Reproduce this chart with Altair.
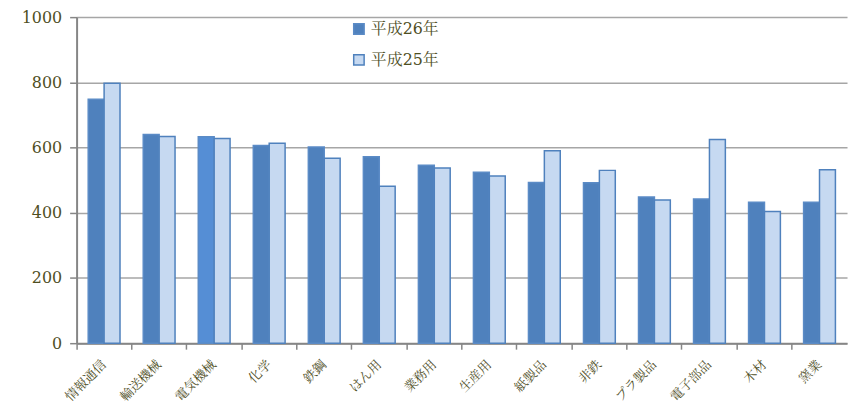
import altair as alt
import pandas as pd

categories = ["情報通信", "輸送機械", "電気機械", "化学", "鉄鋼", "はん用", "業務用",
              "生産用", "紙製品", "非鉄", "プラ製品", "電子部品", "木材", "窯業"]
series_names = ["平成26年", "平成25年"]
values_h26 = [748, 640, 633, 606, 602, 572, 546, 524, 493, 492, 448, 442, 432, 432]
values_h25 = [797, 634, 628, 613, 567, 481, 537, 513, 590, 530, 439, 625, 404, 532]

rows = []
for c, a, b in zip(categories, values_h26, values_h25):
    rows.append({"category": c, "series": series_names[0], "value": a})
    rows.append({"category": c, "series": series_names[1], "value": b})
df = pd.DataFrame(rows)

FONT = "'DejaVu Serif', 'Noto Serif CJK JP', 'Noto Sans CJK JP', serif"
TXT = "#4f4f1f"

leg = alt.Legend(title=None, orient="none", legendX=276, legendY=4,
                 symbolType="square", symbolSize=110,
                 labelFont=FONT, labelFontSize=16, labelColor=TXT,
                 rowPadding=13, symbolStrokeWidth=1.5, labelOffset=4)

fill_scale = alt.Scale(domain=series_names, range=["#4f81bd", "#c6d9f1"])
stroke_scale = alt.Scale(domain=series_names, range=["#5b8bc6", "#4f81bd"])

chart = alt.Chart(df).mark_bar(strokeWidth=1.5).encode(
    x=alt.X("category:N", sort=categories, title=None,
            scale=alt.Scale(paddingInner=0, paddingOuter=0),
            axis=alt.Axis(labelAngle=-45, bandPosition=0,
                          labelFontSize=13, labelAlign="right", labelBaseline="middle",
                          labelFont=FONT, labelColor=TXT, tickSize=6,
                          tickColor="#868686", domainColor="#868686",
                          domainWidth=2, tickWidth=1.5, labelPadding=13)),
    xOffset=alt.XOffset("series:N", sort=series_names,
                        scale=alt.Scale(paddingInner=0, paddingOuter=0.73)),
    y=alt.Y("value:Q", title=None,
            scale=alt.Scale(domain=[0, 1000], nice=False),
            axis=alt.Axis(values=[0, 200, 400, 600, 800, 1000], format="d",
                          labelFontSize=16,
                          labelFont=FONT, labelColor=TXT, tickSize=7,
                          tickColor="#868686", domainColor="#868686",
                          domainWidth=2, tickWidth=1.5, labelPadding=8,
                          grid=True, gridColor="#a6a6a6", gridWidth=1.5)),
    fill=alt.condition(
        "datum.category === '電気機械' && datum.series === '平成26年'",
        alt.value("#558ed5"),
        alt.Fill("series:N", scale=fill_scale, sort=series_names, legend=leg)),
    stroke=alt.Stroke("series:N", scale=stroke_scale, sort=series_names, legend=leg),
).properties(
    width=775, height=328,
    autosize=alt.AutoSizeParams(type="none"),
    padding={"left": 69, "top": 8, "right": 4, "bottom": 61},
).configure_view(stroke=None)

chart.save("out.html", embed_options={"renderer": "svg", "actions": False})
